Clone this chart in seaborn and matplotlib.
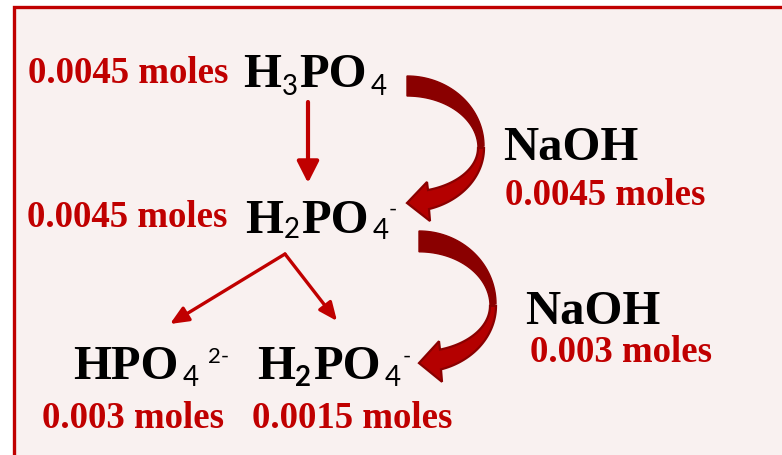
import numpy as np
import matplotlib
matplotlib.use('Agg')
import matplotlib.pyplot as plt
from matplotlib.patches import Rectangle, Polygon
import seaborn as sns

sns.set_theme(style='white')
plt.rcParams['font.family'] = ['Liberation Serif', 'DejaVu Sans']

# ---- content ----
species_parts = [
    ['H', '3', 'PO', '4'],            # H3PO4
    ['H', '2', 'PO', '4', '-'],       # H2PO4-
    ['HPO', '4', '2-'],               # HPO4 2-
    ['H', '2', 'PO', '4', '-'],       # H2PO4-
]
species_moles = ['0.0045 moles', '0.0045 moles', '0.003 moles', '0.0015 moles']
reagent = 'NaOH'
reagent_moles = ['0.0045 moles', '0.003 moles']

# ---- layout (pixels, y down) ----
RED = '#c00000'
DARK = '#8a0000'
BRIGHT = '#b40000'
BG = '#f9f1f0'

species_anchor = [(243, 87), (245, 233), (73, 379), (257, 379)]
part_dx = [[0, 39, 56, 128], [0, 39, 56, 128, 144], [0, 110, 135], [0, 38, 56, 128, 146]]
part_dy = [[0, 8, 0, 8], [0, 5, 0, 6, -17], [0, 7, -16], [0, 7, 0, 7, -16]]
part_role = [['main', 'sub', 'main', 'sub'],
             ['main', 'sub', 'main', 'sub', 'sup'],
             ['main', 'sub', 'sup'],
             ['main', 'subb', 'main', 'sub', 'sup']]
moles_pos = [(28, 83), (27, 227), (42, 428), (252, 428)]
reagent_pos = [(503, 160), (525, 324)]
reagent_moles_pos = [(505, 205), (530, 362)]

role_style = {
    'main': dict(family=['Liberation Serif'], fontweight='bold', fontsize=35, color='black'),
    'sub': dict(family=['Lato', 'DejaVu Sans'], fontweight='normal', fontsize=20, color='black'),
    'subb': dict(family=['Lato', 'DejaVu Sans'], fontweight='bold', fontsize=20, color='black'),
    'sup': dict(family=['Lato', 'DejaVu Sans'], fontweight='normal', fontsize=16, color='black'),
}
red_style = dict(family=['Liberation Serif'], fontweight='bold', fontsize=26.5, color=RED)

fig = plt.figure(figsize=(7.82, 4.56), dpi=100)
fig.patch.set_facecolor('white')
ax = fig.add_axes([0, 0, 1, 1])
ax.set_xlim(0, 782)
ax.set_ylim(456, 0)
ax.axis('off')

# frame
ax.add_patch(Rectangle((14, 8), 800, 470, facecolor=BG, edgecolor=RED, lw=2.4, zorder=0))

# species formulas
for parts, (x0, y0), dxs, dys, roles in zip(species_parts, species_anchor, part_dx, part_dy, part_role):
    for txt, dx, dy, role in zip(parts, dxs, dys, roles):
        ax.text(x0 + dx, y0 + dy, txt, ha='left', va='baseline', **role_style[role])

# mole amounts
for txt, (x, y) in zip(species_moles, moles_pos):
    ax.text(x, y, txt, ha='left', va='baseline', **red_style)
for (x, y), (mx, my), txt in zip(reagent_pos, reagent_moles_pos, reagent_moles):
    ax.text(x, y, reagent, ha='left', va='baseline', **role_style['main'])
    ax.text(mx, my, txt, ha='left', va='baseline', **red_style)


# curved (ribbon) arrows
def curved_arrow(x0, y0, sy=1.0):
    def ell(cx, cy, rx, ry, t):
        t = np.radians(t)
        return np.column_stack([x0 + cx + rx * np.cos(t), y0 + (cy - ry * np.sin(t)) * sy])

    t_up = np.linspace(90, 0, 40)
    outer = ell(0, 70, 77, 70, t_up)
    inner = ell(0, 72, 71, 52, t_up)
    upper = np.vstack([outer, inner[::-1]])
    ax.add_patch(Polygon(upper, closed=True, facecolor=DARK, edgecolor=DARK, lw=1, zorder=3))

    t_lo_out = np.linspace(0, -73.4, 40)
    t_lo_in = np.linspace(0, -72.8, 40)
    out_lo = ell(0, 72, 77, 63.7, t_lo_out)
    in_lo = ell(0, 72, 71, 44, t_lo_in)
    head = np.array([[x0 + 20, y0 + 106 * sy], [x0, y0 + 127 * sy], [x0 + 23, y0 + 145 * sy]])
    lower = np.vstack([in_lo, head, out_lo[::-1]])
    ax.add_patch(Polygon(lower, closed=True, facecolor=BRIGHT, edgecolor=DARK, lw=1.6, zorder=3))


curved_arrow(407, 77)
curved_arrow(419, 232, sy=1.04)

# straight arrows
ax.annotate('', xy=(308, 184), xytext=(308, 103),
            arrowprops=dict(arrowstyle='-|>,head_length=0.65,head_width=0.33', lw=3,
                            color=RED, mutation_scale=20, shrinkA=0, shrinkB=0))
for tip in [(170, 325), (337, 322)]:
    ax.annotate('', xy=tip, xytext=(285, 255),
                arrowprops=dict(arrowstyle='-|>,head_length=0.55,head_width=0.24', lw=2.4,
                                color=RED, mutation_scale=20, shrinkA=0, shrinkB=0))

fig.savefig('out.png', dpi=100, facecolor='white')
